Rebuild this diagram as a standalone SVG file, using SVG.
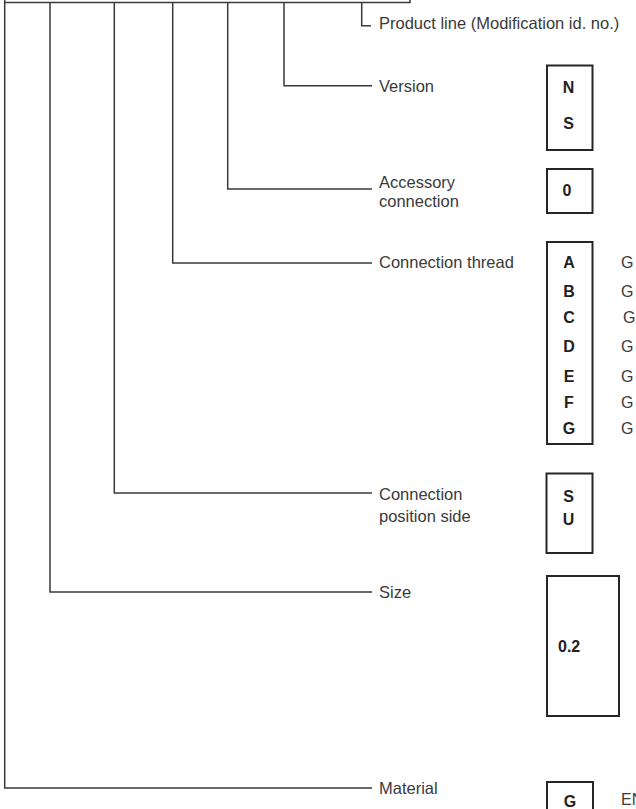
<svg xmlns="http://www.w3.org/2000/svg" width="636" height="809" viewBox="0 0 636 809">
<style>
.ln{fill:none;stroke:#3a3a3a;stroke-width:1.5}
.bx{fill:#fff;stroke:#262626;stroke-width:2}
.lb{font-family:"Liberation Sans",Arial,sans-serif;font-size:16.5px;fill:#3a3a3a}
.cd{font-family:"Liberation Sans",Arial,sans-serif;font-size:16px;font-weight:bold;fill:#222;text-anchor:middle}
.dl{font-family:"Liberation Sans",Arial,sans-serif;font-size:16px;fill:#3a3a3a}
</style>
<rect width="636" height="809" fill="#fff"/>
<g id="connectors">
<path class="ln" d="M4.7,-2 V788 H372"/>
<path class="ln" d="M410,-2 V2.5 H4.7"/>
<path class="ln" d="M50,2.5 V592 H372"/>
<path class="ln" d="M114.3,2.5 V493 H372"/>
<path class="ln" d="M172.7,2.5 V263 H372"/>
<path class="ln" d="M227.7,2.5 V189 H372"/>
<path class="ln" d="M284,2.5 V85.7 H372"/>
<path class="ln" d="M361.7,2.5 V25.7 H371"/>
</g>
<g id="product-line">
<text class="lb" x="379" y="29">Product line (Modification id. no.)</text>
</g>
<g id="version">
<text class="lb" x="379" y="92">Version</text>
<rect class="bx" x="547" y="65.5" width="45.5" height="84.5"/>
<text class="cd" x="568.5" y="93">N</text>
<text class="cd" x="568.5" y="129">S</text>
</g>
<g id="accessory-connection">
<text class="lb" x="379" y="188">Accessory</text>
<text class="lb" x="379" y="207">connection</text>
<rect class="bx" x="547" y="169" width="45.5" height="44"/>
<text class="cd" x="567" y="196">0</text>
</g>
<g id="connection-thread">
<text class="lb" x="379" y="268">Connection thread</text>
<rect class="bx" x="547" y="242" width="45.5" height="202"/>
<text class="cd" x="569" y="268">A</text>
<text class="cd" x="569" y="297">B</text>
<text class="cd" x="569" y="323">C</text>
<text class="cd" x="569" y="352">D</text>
<text class="cd" x="569" y="382">E</text>
<text class="cd" x="569" y="408">F</text>
<text class="cd" x="569" y="434">G</text>
<text class="dl" x="621" y="268">G</text>
<text class="dl" x="621" y="297">G</text>
<text class="dl" x="623" y="323">G</text>
<text class="dl" x="621" y="352">G</text>
<text class="dl" x="621" y="382">G</text>
<text class="dl" x="621" y="408">G</text>
<text class="dl" x="621" y="434">G</text>
</g>
<g id="connection-position-side">
<text class="lb" x="379" y="500">Connection</text>
<text class="lb" x="379" y="522">position side</text>
<rect class="bx" x="546.5" y="473.5" width="46" height="79.5"/>
<text class="cd" x="568.5" y="502">S</text>
<text class="cd" x="568.5" y="525">U</text>
</g>
<g id="size">
<text class="lb" x="379" y="598">Size</text>
<rect class="bx" x="547" y="576" width="72" height="140"/>
<text class="cd" x="558" y="652" style="text-anchor:start">0.2</text>
</g>
<g id="material">
<text class="lb" x="379" y="794">Material</text>
<rect class="bx" x="547" y="782" width="46" height="40"/>
<text class="cd" x="570" y="807">G</text>
<text class="dl" x="621" y="805">EN</text>
</g>
</svg>
